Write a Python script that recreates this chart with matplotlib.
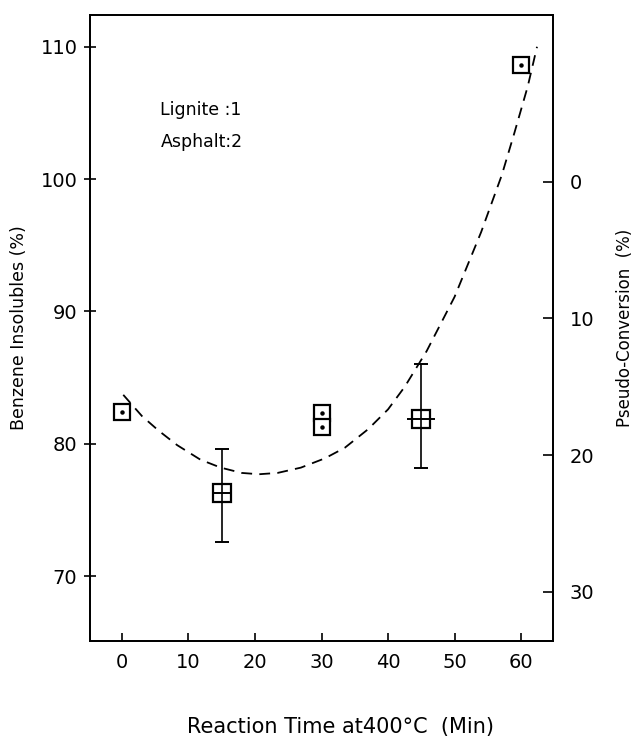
import matplotlib
matplotlib.use("Agg")
import matplotlib.pyplot as plt

# ---- data ----
# dotted squares
dot_t = [0, 30, 30, 60]
dot_bi = [82.4, 82.3, 81.3, 108.6]
# squares with horizontal bar and error bars
bar_t = [15, 45]
bar_bi = [76.3, 81.9]
err_low = [72.6, 78.2]
err_high = [79.6, 86.0]

# dashed fitted curve
curve_t = [0.2, 3, 5.5, 8.3, 11.8, 14.85, 18, 20.6, 23.4, 26.9, 30.5, 33.5,
           37, 40, 42.5, 45.8, 50, 54, 57.1, 59, 61, 62.4]
curve_bi = [83.7, 82.1, 81.0, 79.9, 78.8, 78.2, 77.8, 77.7, 77.8, 78.2, 78.9,
            79.7, 81.1, 82.6, 84.3, 87.0, 91.1, 96.0, 100.3, 103.5, 107.0, 110.0]

x_ticks = [0, 10, 20, 30, 40, 50, 60]
y_ticks = [70, 80, 90, 100, 110]
pc_ticks = [0, 10, 20, 30]
# pseudo-conversion scale: BI at PC=0 and BI drop per PC unit
pc_zero_bi = 99.8
pc_slope = 1.033

plt.rcParams['font.family'] = ['DejaVu Sans']

fig = plt.figure(figsize=(6.37, 7.37), dpi=100)
ax = fig.add_axes([90/637, 1-641/737, (553-90)/637, (641-15)/737])

xlim = (-4.8, 64.8)
ylim = (65.1, 112.4)
ax.set_xlim(*xlim)
ax.set_ylim(*ylim)

ax.plot(curve_t, curve_bi, ls=(0, (6, 4)), color='black', lw=1.3)

# error bars
ax.errorbar(bar_t, bar_bi,
            yerr=[[b - l for b, l in zip(bar_bi, err_low)],
                  [h - b for b, h in zip(bar_bi, err_high)]],
            fmt='none', ecolor='black', elinewidth=1.2, capsize=5, capthick=1.4)

# squares
ax.plot(dot_t, dot_bi, ls='none', marker='s', ms=12, mfc='white', mec='black', mew=1.6)
ax.plot(dot_t, dot_bi, ls='none', marker='o', ms=2.2, color='black')
ax.plot(bar_t, bar_bi, ls='none', marker='s', ms=12.5, mfc='none', mec='black', mew=1.6)
ax.plot([bar_t[0]], [bar_bi[0]], ls='none', marker='_', ms=13, mew=1.4, color='black')
ax.plot([bar_t[1]], [bar_bi[1]], ls='none', marker='_', ms=20, mew=1.4, color='black')

ax.set_xticks(x_ticks)
ax.set_yticks(y_ticks)
ax.tick_params(axis='x', direction='in', length=6, width=1.2, pad=9, labelsize=14)
ax.tick_params(axis='y', direction='inout', length=8, width=1.2, pad=5, labelsize=14)
for s in ['left', 'right', 'top', 'bottom']:
    ax.spines[s].set_linewidth(1.3)

ax.set_xlabel('Reaction Time at400°C  (Min)', fontsize=15)
ax.xaxis.set_label_coords(0.542, -0.122)
ax.set_ylabel('Benzene Insolubles (%)', fontsize=12.5)
ax.yaxis.set_label_coords(-0.134, 0.5)

ax.text(0.152, 0.840, 'Lignite :1', transform=ax.transAxes, fontsize=12.5)
ax.text(0.152, 0.789, 'Asphalt:2', transform=ax.transAxes, fontsize=12.5)

ax2 = ax.twinx()
ax2.set_ylim((pc_zero_bi - ylim[0]) / pc_slope, (pc_zero_bi - ylim[1]) / pc_slope)
ax2.set_yticks(pc_ticks)
ax2.tick_params(axis='y', direction='in', length=7, width=1.2, pad=12, labelsize=14)
ax2.set_ylabel('Pseudo-Conversion  (%)', fontsize=12)
ax2.yaxis.set_label_coords(1.135, 0.5)
for s in ['left', 'right', 'top', 'bottom']:
    ax2.spines[s].set_linewidth(1.3)

fig.savefig('out.png', dpi=100, facecolor='white')
